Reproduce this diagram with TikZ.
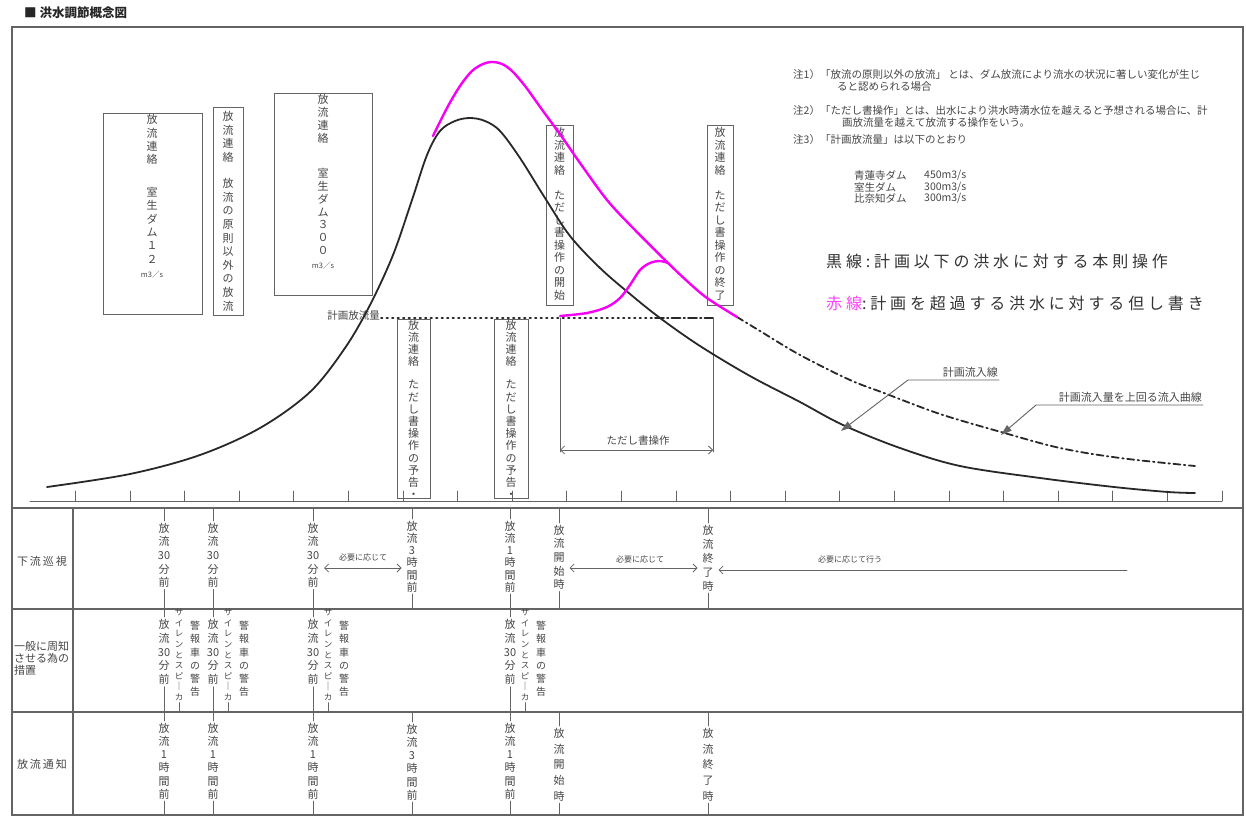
\documentclass[tikz,border=0pt]{standalone}
\usepackage{fontspec}
\setmainfont{Noto Sans CJK JP}
\newfontfamily\legendfont[LetterSpace=24]{Noto Sans CJK JP}
\usepackage{tikz}
\usetikzlibrary{arrows.meta, calc}
\definecolor{inkgray}{RGB}{70, 70, 70}
\definecolor{linegray}{RGB}{100, 100, 100}
\definecolor{curveblack}{RGB}{40, 40, 40}
\definecolor{overmagenta}{RGB}{245, 0, 245}
\definecolor{legendpink}{RGB}{250, 70, 250}

\tikzset{
  vbox/.style={draw=linegray, line width=0.9pt, anchor=north west, inner sep=0pt},
  vtext/.style={font=\fontsize{11}{#1}\selectfont, text=inkgray, align=center, inner sep=0pt, outer sep=2pt, anchor=north},
  vtext/.default=13.4,
  tick/.style={linegray, line width=0.8pt},
  note/.style={font=\fontsize{10.5}{12}\selectfont, text=inkgray, anchor=west, inner sep=0pt},
  smalltext/.style={font=\fontsize{8}{9}\selectfont, text=inkgray, inner sep=0pt},
  lbltext/.style={font=\fontsize{11}{12}\selectfont, text=inkgray, inner sep=1pt},
  chev/.style={linegray, line width=0.8pt, {Straight Barb[length=4pt,width=8pt]}-{Straight Barb[length=4pt,width=8pt]}},
  leader/.style={linegray, line width=0.9pt, -{Triangle[length=11pt,width=7pt]}},
}

\begin{document}
\begin{tikzpicture}[x=1pt, y=-1pt, line cap=round]
\useasboundingbox[fill=white] (0,0) rectangle (1246,818);

% title
\node[anchor=west, inner sep=0pt, text=black!85, font=\bfseries\fontsize{12.5}{13}\selectfont] (title) at (24,13) {■ 洪水調節概念図};

% frame and table rules
\draw[linegray, line width=1.2pt] (12,27) rectangle (1243,815);
\coordinate (rowA) at (12,508);
\coordinate (rowB) at (12,609);
\coordinate (rowC) at (12,712);
\coordinate (rowD) at (12,815);
\foreach \r in {rowA, rowB, rowC} \draw[linegray, line width=1.6pt] (\r) -- ++(1231,0);
\draw[linegray, line width=1.2pt] (73,508) -- (73,815);

% time axis
\draw[tick] (30,501) -- (1222,501);
\foreach \k in {0,...,21} \draw[tick] ({75.4+54.6*\k},501) -- ++(0,-10);

% notes
\node[note] (note1a) at (793,75) {注1）「放流の原則以外の放流」 とは、ダム放流により流水の状況に著しい変化が生じ};
\node[note] (note1b) at (837,87) {ると認められる場合};
\node[note] (note2a) at (793,111) {注2）「ただし書操作」とは、出水により洪水時満水位を越えると予想される場合に、計};
\node[note] (note2b) at (842,123) {画放流量を越えて放流する操作をいう。};
\node[note] (note3) at (793,140) {注3）「計画放流量」は以下のとおり};
\node[note] (dam1) at (854,175) {青蓮寺ダム};
\node[note] (dam2) at (854,187) {室生ダム};
\node[note] (dam3) at (854,198) {比奈知ダム};
\node[note] (flow1) at (924,175) {450m3/s};
\node[note] (flow2) at (924,187) {300m3/s};
\node[note] (flow3) at (924,198) {300m3/s};

% legend
\node[anchor=west, inner sep=0pt, text=black!80, font=\legendfont\fontsize{16}{17}\selectfont] (legblack) at (826,261) {黒線:計画以下の洪水に対する本則操作};
\node[anchor=west, inner sep=0pt, text=black!80, font=\legendfont\fontsize{16}{17}\selectfont] (legred) at (826,303) {\textcolor{legendpink}{赤線}:計画を超過する洪水に対する但し書き};

% contact boxes
\node[vbox, minimum width=99pt, minimum height=201pt] (boxA) at (103,113) {};
\node[vtext=13.4] (boxAtxt) at (152,112.5) {放\\流\\連\\絡\\[19pt]室\\生\\ダ\\ム\\１\\２\\[1pt]{\fontsize{7.5}{8}\selectfont m3／s}};
\node[vbox, minimum width=30pt, minimum height=208pt] (boxB) at (213,107) {};
\node[vtext=13.6] (boxBtxt) at (228,109.5) {放\\流\\連\\絡\\[12.6pt]放\\流\\の\\原\\則\\以\\外\\の\\放\\流};
\node[vbox, minimum width=98pt, minimum height=202pt] (boxC) at (274,93) {};
\node[vtext=12.8] (boxCtxt) at (323,92.5) {放\\流\\連\\絡\\[22.8pt]室\\生\\ダ\\ム\\３\\０\\０\\[1pt]{\fontsize{7.5}{8}\selectfont m3／s}};
\node[vbox, minimum width=33pt, minimum height=179pt] (boxD) at (397,319) {};
\node[vtext=12.2] (boxDtxt) at (413.5,318) {放\\流\\連\\絡\\[10.8pt]た\\だ\\し\\書\\操\\作\\の\\予\\告\\・};
\node[vbox, minimum width=34pt, minimum height=179pt] (boxE) at (494,319) {};
\node[vtext=12.2] (boxEtxt) at (511,318) {放\\流\\連\\絡\\[10.8pt]た\\だ\\し\\書\\操\\作\\の\\予\\告\\・};
\node[vbox, minimum width=27pt, minimum height=180pt] (boxF) at (546,125) {};
\node[vtext=12.5] (boxFtxt) at (559.5,125.5) {放\\流\\連\\絡\\[12.5pt]た\\だ\\し\\書\\操\\作\\の\\開\\始};
\node[vbox, minimum width=26pt, minimum height=180pt] (boxG) at (707,125) {};
\node[vtext=12.5] (boxGtxt) at (720,125.5) {放\\流\\連\\絡\\[12.5pt]た\\だ\\し\\書\\操\\作\\の\\終\\了};

% planned discharge
\node[anchor=east, inner sep=1pt, text=inkgray, font=\fontsize{10.5}{11}\selectfont] (planlbl) at (381,316) {計画放流量};
\coordinate (planmid) at (655,318);
\coordinate (planend) at (713,318);
\draw[curveblack, line width=1.6pt, dash pattern=on 1.5pt off 4pt] (planlbl.east |- planmid) -- (planmid);
\draw[curveblack, line width=1.6pt, dash pattern=on 9pt off 3pt on 1.5pt off 3pt] (planmid) -- (planend);

% proviso operation span
\coordinate (tsLtop) at (560,318);
\coordinate (tsRtop) at (713,318);
\coordinate (tsLarr) at (560,450);
\coordinate (tsRarr) at (713,450);
\draw[tick] (tsLtop) -- ([yshift=-2pt]tsLarr);
\draw[tick] (tsRtop) -- ([yshift=-2pt]tsRarr);
\draw[chev] (tsLarr) -- (tsRarr);
\node[lbltext, font=\fontsize{10.5}{11}\selectfont] (tslabel) at (638,441) {ただし書操作};

% inflow curves
\draw[curveblack, line width=1.8pt] plot[smooth, tension=0.55] coordinates {(47,487) (130,474) (200,455) (260,428) (310,392) (345,348) (370,305) (393,255) (412,200) (427,155) (440,131) (455,121) (470,118) (485,121) (500,131) (520,158) (545,198) (570,236) (600,268) (630,294) (660,318) (700,346) (750,376) (800,402) (843,425) (900,448) (960,466) (1040,478) (1114,487) (1168,492) (1195,493)};
\draw[curveblack, line width=1.8pt, dash pattern=on 7pt off 3.5pt on 1.5pt off 3.5pt] plot[smooth, tension=0.55] coordinates {(737,317) (760,331) (800,355) (850,380) (884,393) (940,414) (1001,432) (1060,448) (1120,458) (1195,466)};
\draw[overmagenta, line width=2.4pt] plot[smooth, tension=0.55] coordinates {(433,136) (447,108) (460,86) (472,71) (483,64) (492,62) (502,64) (512,71) (525,86) (543,111) (562,137) (580,163) (607,200) (633,228) (667,262) (687,281) (707,298) (737,317)};
\draw[overmagenta, line width=2.4pt] plot[smooth, tension=0.55] coordinates {(560,316) (587,313) (607,307) (620,298) (630,285) (640,270) (650,263) (660,261) (668,263)};

% leaders
\node[lbltext, anchor=south east] (inflowlbl) at (999,379) {計画流入線};
\coordinate (inflowknee) at (908,380);
\coordinate (inflowtip) at (841,431);
\draw[leader] (inflowlbl.south east |- inflowknee) -- (inflowknee) -- (inflowtip);
\node[lbltext, anchor=south east] (overlbl) at (1203,404) {計画流入量を上回る流入曲線};
\coordinate (overknee) at (1036,405);
\coordinate (overtip) at (1001,435);
\draw[leader] (overlbl.south east |- overknee) -- (overknee) -- (overtip);

% row labels
\node[text=inkgray, font=\fontsize{11}{12}\selectfont, inner sep=0pt] (lblpatrol) at (42,561) {下\hspace{2pt}流\hspace{2pt}巡\hspace{2pt}視};
\node[text=inkgray, font=\fontsize{11}{12}\selectfont, inner sep=0pt, align=left, anchor=west] (lblnotice) at (14,658) {一般に周知\\させる為の\\措置};
\node[text=inkgray, font=\fontsize{11}{12}\selectfont, inner sep=0pt] (lblrelease) at (42,764) {放\hspace{2pt}流\hspace{2pt}通\hspace{2pt}知};

% row 1: downstream patrol
\foreach \cx/\nm in {164/a, 213/b, 313/c}
  \node[vtext=13.6] (pat\nm) at (\cx,521) {放\\流\\30\\分\\前};
\node[vtext=12.2] (patd) at (412,519) {放\\流\\3\\時\\間\\前};
\node[vtext=12.2] (pate) at (510,519) {放\\流\\1\\時\\間\\前};
\node[vtext=13.6] (patf) at (559,523) {放\\流\\開\\始\\時};
\node[vtext=14] (patg) at (708,523) {放\\流\\終\\了\\時};
\foreach \nm in {a,b,c,d,e,f,g} {
  \draw[tick] (pat\nm.north) -- (pat\nm.north |- rowA);
  \draw[tick] (pat\nm.south) -- (pat\nm.south |- rowB);
}
\coordinate (needrow) at (0,568);
\draw[chev] ([xshift=3pt]patc.east |- needrow) -- ([xshift=-3pt]patd.west |- needrow);
\node[smalltext] (need1) at (363,557) {必要に応じて};
\draw[chev] ([xshift=3pt]patf.east |- needrow) -- ([xshift=-3pt]patg.west |- needrow);
\node[smalltext] (need2) at (640,559) {必要に応じて};
\coordinate (patrolend) at (1127,570);
\draw[linegray, line width=0.8pt, -{Straight Barb[length=4pt,width=8pt]}] (patrolend) -- ([xshift=3pt]patg.east |- patrolend);
\node[smalltext] (need3) at (850,559) {必要に応じて行う};

% row 2: public warning
\foreach \cx/\nm in {164/a, 213/b, 313/c, 510/d} {
  \node[vtext=13.9] (gen\nm) at (\cx,617) {放\\流\\30\\分\\前};
  \node[vtext, font=\fontsize{8.5}{10.6}\selectfont] (siren\nm) at ({\cx+15},607) {サ\\イ\\レ\\ン\\と\\ス\\ピ\\｜\\カ};
  \node[vtext, font=\fontsize{10}{13.3}\selectfont] (car\nm) at ({\cx+31},619) {警\\報\\車\\の\\警\\告};
  \draw[tick] (gen\nm.north) -- (gen\nm.north |- rowB);
  \draw[tick] (gen\nm.south) -- (gen\nm.south |- rowC);
  \draw[tick] (siren\nm.south) -- (siren\nm.south |- rowC);
}

% row 3: release notice
\foreach \cx/\nm in {164/a, 213/b, 313/c, 510/e}
  \node[vtext=13.2] (rel\nm) at (\cx,721) {放\\流\\1\\時\\間\\前};
\node[vtext=13.2] (reld) at (412,722) {放\\流\\3\\時\\間\\前};
\node[vtext=15.8] (relf) at (559,726) {放\\流\\開\\始\\時};
\node[vtext=15.8] (relg) at (708,726) {放\\流\\終\\了\\時};
\foreach \nm in {a,b,c,d,e,f,g} {
  \draw[tick] (rel\nm.north) -- (rel\nm.north |- rowC);
  \draw[tick] (rel\nm.south) -- (rel\nm.south |- rowD);
}
\end{tikzpicture}
\end{document}
